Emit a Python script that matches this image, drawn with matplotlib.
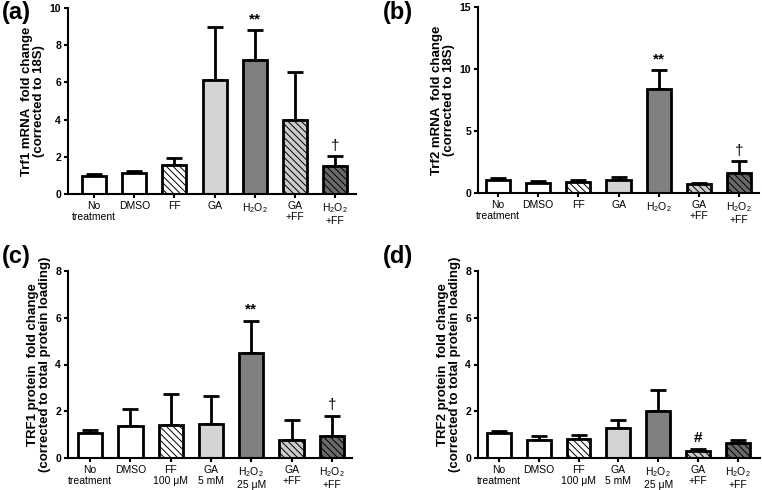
import matplotlib.pyplot as plt
import numpy as np

plt.rcParams['font.family'] = ['Liberation Sans', 'DejaVu Sans']
plt.rcParams['mathtext.fontset'] = 'custom'
plt.rcParams['mathtext.rm'] = 'Liberation Sans'
plt.rcParams['mathtext.it'] = 'Liberation Sans:italic'
plt.rcParams['hatch.linewidth'] = 0.7

labels_top = ['No\ntreatment', 'DMSO', 'FF', 'GA', 'H$_2$O$_2$', 'GA\n+FF', 'H$_2$O$_2$\n+FF']
labels_bottom = ['No\ntreatment', 'DMSO', 'FF\n100 \u03bcM', 'GA\n5 mM', 'H$_2$O$_2$\n25 \u03bcM',
                 'GA\n+FF', 'H$_2$O$_2$\n+FF']

# mean values and upper error bar tops
trf1_mrna = [0.95, 1.15, 1.55, 6.15, 7.2, 4.0, 1.48]
trf1_mrna_top = [1.05, 1.25, 1.92, 9.0, 8.82, 6.58, 2.02]
trf2_mrna = [1.05, 0.8, 0.9, 1.05, 8.4, 0.7, 1.65]
trf2_mrna_top = [1.25, 0.98, 1.02, 1.27, 9.9, 0.82, 2.55]
trf1_prot = [1.05, 1.38, 1.4, 1.47, 4.48, 0.75, 0.95]
trf1_prot_top = [1.2, 2.1, 2.72, 2.65, 5.88, 1.63, 1.8]
trf2_prot = [1.05, 0.77, 0.8, 1.3, 2.02, 0.28, 0.65]
trf2_prot_top = [1.15, 0.95, 1.0, 1.62, 2.92, 0.4, 0.78]

colors = ['white', 'white', 'white', '#d4d4d4', '#808080', '#cccccc', '#6a6a6a']
hatches = [None, None, '\\\\\\\\\\', None, None, '\\\\\\\\\\', '\\\\\\\\\\']

fig = plt.figure(figsize=(7.62, 4.9), dpi=100)


def panel(rect, vals, tops, ylim, yticks, xlim, xlabels, ylabel, marks, tag, tagpos):
    ax = fig.add_axes(rect)
    x = np.arange(len(vals))
    err = np.array(tops) - np.array(vals)
    ax.errorbar(x, vals, yerr=[np.zeros(len(vals)), err], fmt='none', ecolor='black',
                elinewidth=2, capsize=6, capthick=2, zorder=1)
    for i in range(len(vals)):
        ax.bar(x[i], vals[i], 0.6, color=colors[i], edgecolor='black', linewidth=2,
               hatch=hatches[i], zorder=2)
    for i, s in marks.items():
        ax.text(x[i], tops[i] + (ylim[1] * 0.02), s, ha='center', va='bottom',
                fontsize=11, fontweight='bold' if s != '\u2020' else 'normal')
    ax.set_ylim(*ylim)
    ax.set_xlim(*xlim)
    ax.set_yticks(yticks)
    ax.set_xticks(x)
    ax.set_xticklabels(xlabels, fontsize=7.5, linespacing=1.1)
    for t in ax.get_yticklabels():
        t.set_fontweight('bold')
        t.set_fontsize(7.5)
    ax.spines['top'].set_visible(False)
    ax.spines['right'].set_visible(False)
    ax.spines['left'].set_linewidth(1.5)
    ax.spines['bottom'].set_linewidth(1.5)
    ax.tick_params(axis='both', width=1.5, length=3, pad=2)
    ax.set_ylabel(ylabel, fontsize=9.5, fontweight='bold', linespacing=1.05, labelpad=3)
    fig.text(tagpos[0], tagpos[1], tag, fontsize=17, fontweight='bold', va='top')
    return ax


panel([68 / 762, 1 - 194 / 490, 288 / 762, 186 / 490], trf1_mrna, trf1_mrna_top, (0, 10),
      [0, 2, 4, 6, 8, 10], (-0.65, 6.52), labels_top,
      'Trf1 mRNA  fold change\n(corrected to 18S)', {4: '**', 6: '\u2020'}, '(a)', (0.003, 0.997))

panel([478 / 762, 1 - 193 / 490, 281 / 762, 186 / 490], trf2_mrna, trf2_mrna_top, (0, 15),
      [0, 5, 10, 15], (-0.5, 6.5), labels_top,
      'Trf2 mRNA  fold change\n(corrected to 18S)', {4: '**', 6: '\u2020'}, '(b)', (383 / 762, 0.997))

panel([68 / 762, 1 - 458 / 490, 284 / 762, 187 / 490], trf1_prot, trf1_prot_top, (0, 8),
      [0, 2, 4, 6, 8], (-0.55, 6.5), labels_bottom,
      'TRF1 protein  fold change\n(corrected to total protein loading)', {4: '**', 6: '\u2020'},
      '(c)', (0.003, 1 - 245 / 490))

panel([478 / 762, 1 - 458 / 490, 282 / 762, 187 / 490], trf2_prot, trf2_prot_top, (0, 8),
      [0, 2, 4, 6, 8], (-0.52, 6.55), labels_bottom,
      'TRF2 protein  fold change\n(corrected to total protein loading)', {5: '#'},
      '(d)', (383 / 762, 1 - 245 / 490))

fig.savefig('out.png', dpi=100)
